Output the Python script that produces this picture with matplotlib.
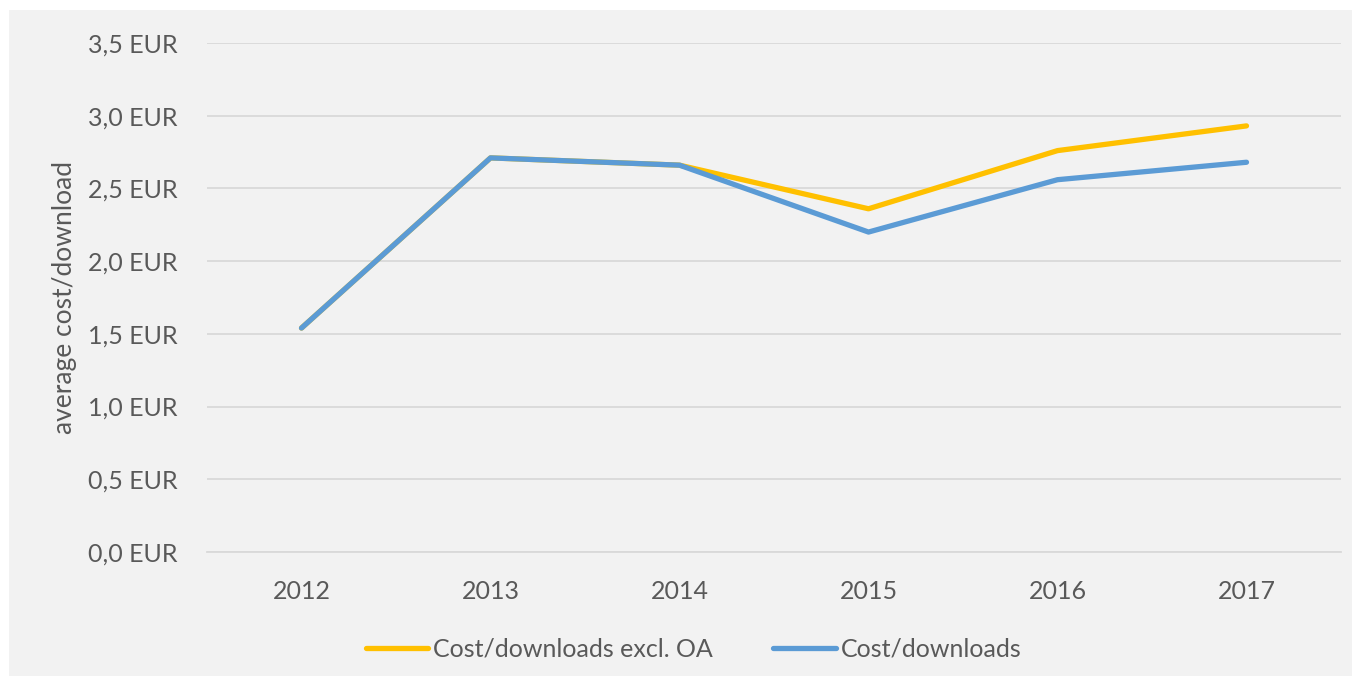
import matplotlib
matplotlib.use("Agg")
import matplotlib.pyplot as plt
from matplotlib.patches import Rectangle
from matplotlib.ticker import FuncFormatter

years = ['2012', '2013', '2014', '2015', '2016', '2017']
cost_excl_oa = [1.54, 2.71, 2.66, 2.36, 2.76, 2.93]
cost = [1.54, 2.71, 2.66, 2.20, 2.56, 2.68]

plt.rcParams['font.family'] = ['Lato', 'DejaVu Sans']
txt = '#595959'

fig = plt.figure(figsize=(13.6, 6.84), dpi=100)
fig.patches.append(Rectangle((9/1360, 8/684), 1343/1360, 666/684, transform=fig.transFigure,
                             facecolor='#F2F2F2', edgecolor='none', zorder=-1))
ax = fig.add_axes([207/1360, 1 - 552/684, 1134/1360, 509/684])
ax.set_facecolor('none')

x = range(len(years))
ax.plot(x, cost_excl_oa, color='#FFC000', lw=3.8, solid_capstyle='round', label='Cost/downloads excl. OA')
ax.plot(x, cost, color='#5B9BD5', lw=3.8, solid_capstyle='round', label='Cost/downloads')

ax.set_xlim(-0.5, 5.5)
ax.set_ylim(0, 3.5)
ax.set_xticks(list(x))
ax.set_xticklabels(years)
ax.set_yticks([i * 0.5 for i in range(8)])
ax.yaxis.set_major_formatter(FuncFormatter(lambda v, p: f"{v:.1f}".replace('.', ',') + ' EUR'))
ax.grid(axis='y', color='#D9D9D9', lw=1.3)
ax.set_axisbelow(True)
for s in ['top', 'right', 'left']:
    ax.spines[s].set_visible(False)
ax.spines['bottom'].set_color('#D9D9D9')
ax.spines['bottom'].set_linewidth(1.3)
ax.tick_params(length=0, labelsize=18, colors=txt)
ax.tick_params(axis='y', pad=21)
ax.tick_params(axis='x', pad=20)
ax.set_ylabel('average cost/download', fontsize=19, color=txt, labelpad=8)

fig.legend(loc='center', bbox_to_anchor=(0.51, 1 - 649/684), ncol=2, frameon=False,
           fontsize=18, labelcolor=txt, handlelength=2.5, handletextpad=0.2, columnspacing=2.4)

fig.savefig('out.png', dpi=100)
